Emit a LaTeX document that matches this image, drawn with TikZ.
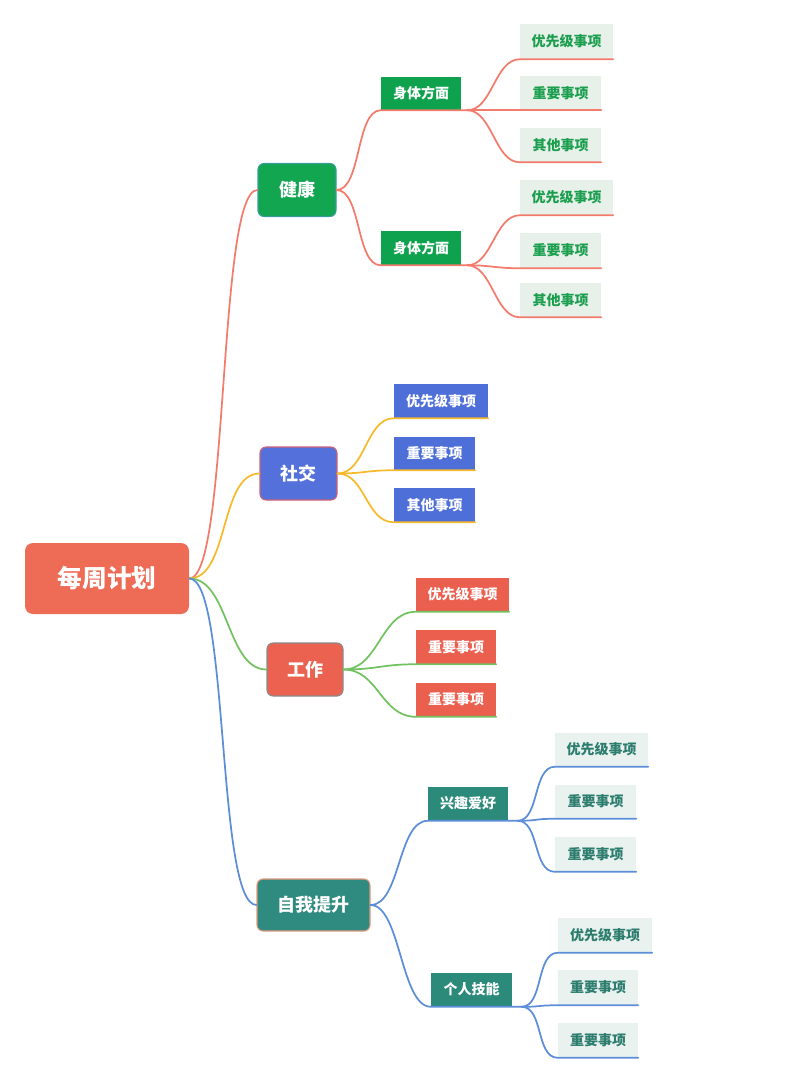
\documentclass[tikz,border=0pt]{standalone}
\usepackage{fontspec}
\setmainfont{Noto Sans CJK SC}
\definecolor{rootc}{HTML}{EE6B56}
\definecolor{hgreen}{HTML}{11A64F}
\definecolor{hborder}{HTML}{3A9C9A}
\definecolor{hsub}{HTML}{0FA24E}
\definecolor{hleaf}{HTML}{E7F0E9}
\definecolor{hleaftext}{HTML}{1B9F4F}
\definecolor{redl}{HTML}{F27B6B}
\definecolor{sblue}{HTML}{5470DA}
\definecolor{sborder}{HTML}{D0607A}
\definecolor{sleaf}{HTML}{4F6FD8}
\definecolor{yell}{HTML}{F6BA2C}
\definecolor{wred}{HTML}{EB6350}
\definecolor{wborder}{HTML}{8A8A8A}
\definecolor{wleaf}{HTML}{EB5F4E}
\definecolor{greenl}{HTML}{72C25F}
\definecolor{zteal}{HTML}{2F8B7F}
\definecolor{zborder}{HTML}{E29A7C}
\definecolor{zsub}{HTML}{2B8A7A}
\definecolor{zleaf}{HTML}{E9F2EF}
\definecolor{zleaftext}{HTML}{2D7D6F}
\definecolor{bluel}{HTML}{5C8DD8}
\tikzset{
  x=0.75pt, y=-0.75pt,
  sz/.style 2 args={minimum width=#1*0.75pt, minimum height=#2*0.75pt},
  base/.style={rectangle, inner sep=0pt, text=white},
  rootbox/.style={base, fill=rootc, rounded corners=6pt, font=\bfseries\fontsize{18.5}{20}\selectfont},
  midbox/.style={base, rounded corners=4.5pt, line width=0.8pt, font=\bfseries\fontsize{13.5}{15}\selectfont},
  subbox/.style={base, font=\bfseries\fontsize{10.5}{12}\selectfont},
  leafbox/.style={base, font=\bfseries\fontsize{10.5}{12}\selectfont},
  conn/.style={line width=1.3pt, line cap=round},
}
\begin{document}
\begin{tikzpicture}
\useasboundingbox (0,0) rectangle (800,1069);
% root
\node[rootbox, sz={164}{71}] (r) at (107,578.5) {每周计划};
% health
\node[midbox, fill=hgreen, draw=hborder, sz={78}{53}] (h) at (297,190) {健康};
\node[subbox, fill=hsub, sz={80}{33}] (b1) at (421,93.5) {身体方面};
\node[subbox, fill=hsub, sz={80}{34}] (b2) at (421,248) {身体方面};
\tikzset{hl/.style={leafbox, fill=hleaf, text=hleaftext}}
\node[hl, sz={93}{35}] (l11) at (566.5,41.5) {优先级事项};
\node[hl, sz={81}{34}] (l12) at (560.5,93) {重要事项};
\node[hl, sz={81}{34}] (l13) at (560.5,145) {其他事项};
\node[hl, sz={93}{35}] (l21) at (566.5,197.5) {优先级事项};
\node[hl, sz={81}{35}] (l22) at (560.5,250.5) {重要事项};
\node[hl, sz={81}{34}] (l23) at (560.5,300) {其他事项};
% social
\node[midbox, fill=sblue, draw=sborder, sz={77}{53}] (s) at (298.5,473.5) {社交};
\tikzset{sl/.style={leafbox, fill=sleaf}}
\node[sl, sz={94}{34}] (s1) at (441,401) {优先级事项};
\node[sl, sz={81}{33}] (s2) at (434.5,453.5) {重要事项};
\node[sl, sz={81}{34}] (s3) at (434.5,505) {其他事项};
% work
\node[midbox, fill=wred, draw=wborder, sz={76}{53}] (w) at (305,669.5) {工作};
\tikzset{wl/.style={leafbox, fill=wleaf}}
\node[wl, sz={93}{34}] (w1) at (462.5,594.5) {优先级事项};
\node[wl, sz={80}{34}] (w2) at (456,647) {重要事项};
\node[wl, sz={80}{34}] (w3) at (456,699.5) {重要事项};
% self improvement
\node[midbox, fill=zteal, draw=zborder, sz={113}{52}] (z) at (313.5,905) {自我提升};
\node[subbox, fill=zsub, sz={80}{34}] (z1) at (468,803.5) {兴趣爱好};
\node[subbox, fill=zsub, sz={81}{34}] (z2) at (471.5,989.5) {个人技能};
\tikzset{zl/.style={leafbox, fill=zleaf, text=zleaftext}}
\node[zl, sz={93}{34}] (z11) at (601.5,749.5) {优先级事项};
\node[zl, sz={81}{34}] (z12) at (595.5,801.5) {重要事项};
\node[zl, sz={81}{35}] (z13) at (595.5,854) {重要事项};
\node[zl, sz={94}{35}] (z21) at (605,935) {优先级事项};
\node[zl, sz={80}{35}] (z22) at (598,987.5) {重要事项};
\node[zl, sz={80}{35}] (z23) at (598,1040) {重要事项};
% fork points
\coordinate (b1f) at ([xshift=4.5pt]b1.south east);
\coordinate (b2f) at ([xshift=4.5pt]b2.south east);
\coordinate (z1f) at ([xshift=7pt]z1.south east);
\coordinate (z2f) at ([xshift=7pt]z2.south east);
% connectors: root
\draw[conn, redl] (r.east) .. controls +(40,0) and +(-40,0) .. (h.west);
\draw[conn, yell] (r.east) .. controls +(40,0) and +(-40,0) .. (s.west);
\draw[conn, greenl] (r.east) .. controls +(40,0) and +(-40,0) .. (w.west);
\draw[conn, bluel] (r.east) .. controls +(40,0) and +(-40,0) .. (z.west);
% health
\draw[conn, redl] (h.east) .. controls +(25,0) and +(-25,0) .. (b1.south west) -- (b1f);
\draw[conn, redl] (h.east) .. controls +(25,0) and +(-25,0) .. (b2.south west) -- (b2f);
\foreach \l in {l11,l12,l13}
  \draw[conn, redl] (b1f) .. controls +(25,0) and +(-25,0) .. (\l.south west) -- (\l.south east);
\foreach \l in {l21,l22,l23}
  \draw[conn, redl] (b2f) .. controls +(25,0) and +(-25,0) .. (\l.south west) -- (\l.south east);
% social
\foreach \l in {s1,s2,s3}
  \draw[conn, yell] (s.east) .. controls +(28,0) and +(-28,0) .. (\l.south west) -- (\l.south east);
% work
\foreach \l in {w1,w2,w3}
  \draw[conn, greenl] (w.east) .. controls +(35,0) and +(-35,0) .. (\l.south west) -- (\l.south east);
% self improvement
\draw[conn, bluel] (z.east) .. controls +(30,0) and +(-30,0) .. (z1.south west) -- (z1f);
\draw[conn, bluel] (z.east) .. controls +(30,0) and +(-30,0) .. (z2.south west) -- (z2f);
\foreach \l in {z11,z12,z13}
  \draw[conn, bluel] (z1f) .. controls +(22,0) and +(-22,0) .. (\l.south west) -- (\l.south east);
\foreach \l in {z21,z22,z23}
  \draw[conn, bluel] (z2f) .. controls +(22,0) and +(-22,0) .. (\l.south west) -- (\l.south east);
\end{tikzpicture}
\end{document}
